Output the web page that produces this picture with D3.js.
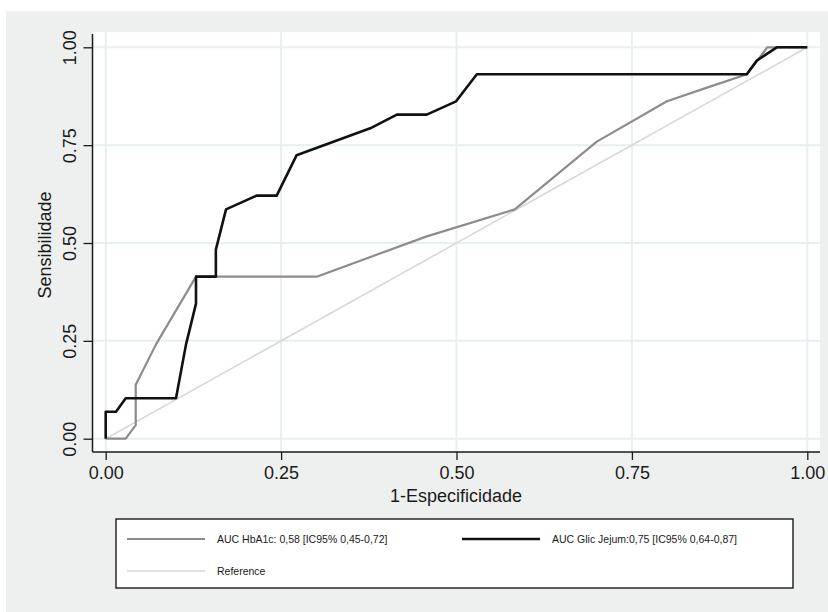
<!DOCTYPE html>
<html>
<head>
<meta charset="utf-8">
<script src="https://cdn.jsdelivr.net/npm/d3@7"></script>
<style>
  html, body { margin: 0; padding: 0; background: #ffffff; }
  svg { display: block; }
  text { font-family: "Liberation Sans", Arial, Helvetica, sans-serif; fill: #1a1a1a; }
</style>
</head>
<body>
<svg id="chart" width="828" height="612"></svg>
<script>
// ROC curves: 1-Especificidade (x) vs Sensibilidade (y)
const tickValues = [0, 0.25, 0.5, 0.75, 1];

const hba1cFpr  = [0, 0.0285, 0.0428, 0.0428, 0.0717, 0.1287, 0.3008, 0.4576, 0.583, 0.700, 0.800, 0.857, 0.914, 0.943, 1];
const hba1cSens = [0, 0,      0.0345, 0.138,  0.241,  0.414,  0.414,  0.517,  0.586, 0.759, 0.862, 0.897, 0.931, 1,     1];

const glicFpr  = [0, 0,     0.0147, 0.0285, 0.1002, 0.1145, 0.1287, 0.1287, 0.157, 0.157, 0.1715, 0.215, 0.2437, 0.272, 0.377, 0.415, 0.4576, 0.4994, 0.529, 0.9137, 0.928, 0.9565, 1];
const glicSens = [0, 0.069, 0.069,  0.1034, 0.1034, 0.241,  0.345,  0.414,  0.414, 0.483, 0.586,  0.621, 0.621,  0.724, 0.793, 0.828, 0.828,  0.862,  0.931, 0.931,  0.966, 1,      1];

const refFpr  = [0, 1];
const refSens = [0, 1];

const seriesNames = [
  "AUC HbA1c: 0,58 [IC95% 0,45-0,72]",
  "AUC Glic Jejum:0,75 [IC95% 0,64-0,87]",
  "Reference"
];

const svg = d3.select("#chart");

// outer graph region
svg.append("rect").attr("x", 6).attr("y", 11).attr("width", 822).attr("height", 601).attr("fill", "#eef0ef");

// plot region
const plot = { left: 92.5, right: 820, top: 32, bottom: 452 };
svg.append("rect")
  .attr("x", plot.left).attr("y", plot.top)
  .attr("width", plot.right - plot.left).attr("height", plot.bottom - plot.top)
  .attr("fill", "#ffffff");

const x = d3.scaleLinear().domain([0, 1]).range([105.7, 807.3]);
const y = d3.scaleLinear().domain([0, 1]).range([438.7, 47.3]);

// grid
const grid = svg.append("g");
grid.selectAll("line.gx").data(tickValues).join("line")
  .attr("x1", d => x(d)).attr("x2", d => x(d))
  .attr("y1", plot.top).attr("y2", plot.bottom)
  .attr("stroke", "#e7eff2").attr("stroke-width", 2);
grid.selectAll("line.gy").data(tickValues).join("line")
  .attr("y1", d => y(d)).attr("y2", d => y(d))
  .attr("x1", plot.left).attr("x2", plot.right)
  .attr("stroke", "#e7eff2").attr("stroke-width", 2);

// lines
const line = d3.line().x(d => x(d[0])).y(d => y(d[1]));
const zip = (a, b) => a.map((v, i) => [v, b[i]]);

svg.append("path").datum(zip(refFpr, refSens))
  .attr("d", line).attr("fill", "none")
  .attr("stroke", "#d8d8d8").attr("stroke-width", 1.6);

svg.append("path").datum(zip(hba1cFpr, hba1cSens))
  .attr("d", line).attr("fill", "none")
  .attr("stroke", "#8c8c8c").attr("stroke-width", 2.2).attr("stroke-linejoin", "round");

svg.append("path").datum(zip(glicFpr, glicSens))
  .attr("d", line).attr("fill", "none")
  .attr("stroke", "#111111").attr("stroke-width", 2.6).attr("stroke-linejoin", "round");

// axes
const xAxis = d3.axisBottom(x).tickValues(tickValues).tickFormat(d3.format(".2f")).tickSize(8).tickSizeOuter(0);
const gx = svg.append("g").attr("transform", `translate(0,${plot.bottom})`).call(xAxis);
gx.select(".domain").remove();
gx.selectAll(".tick line").attr("stroke", "#1a1a1a").attr("stroke-width", 1.3);
gx.selectAll(".tick text").attr("y", 27).attr("dy", null)
  .style("font-size", "18px").style("font-family", "'Liberation Sans', Arial, sans-serif").attr("fill", "#1a1a1a");

const yAxis = d3.axisLeft(y).tickValues(tickValues).tickFormat(d3.format(".2f")).tickSize(9).tickSizeOuter(0);
const gy = svg.append("g").attr("transform", `translate(${plot.left},0)`).call(yAxis);
gy.select(".domain").remove();
gy.selectAll(".tick line").attr("stroke", "#1a1a1a").attr("stroke-width", 1.3);
gy.selectAll(".tick text")
  .attr("x", null).attr("dy", null)
  .attr("transform", "translate(-16.5,0) rotate(-90)")
  .attr("text-anchor", "middle")
  .style("font-size", "18px").style("font-family", "'Liberation Sans', Arial, sans-serif").attr("fill", "#1a1a1a");

// axis lines
svg.append("line").attr("x1", plot.left).attr("x2", plot.left).attr("y1", 34).attr("y2", plot.bottom)
  .attr("stroke", "#1a1a1a").attr("stroke-width", 1.5);
svg.append("line").attr("x1", plot.left).attr("x2", plot.right).attr("y1", plot.bottom).attr("y2", plot.bottom)
  .attr("stroke", "#1a1a1a").attr("stroke-width", 1.5);

// axis titles
svg.append("text").attr("x", 456).attr("y", 502).attr("text-anchor", "middle")
  .style("font-size", "18px").text("1-Especificidade");
svg.append("text").attr("transform", "translate(51,245) rotate(-90)").attr("text-anchor", "middle")
  .style("font-size", "18px").text("Sensibilidade");

// legend
const legend = svg.append("g");
legend.append("rect").attr("x", 116).attr("y", 519).attr("width", 677).attr("height", 69)
  .attr("fill", "#ffffff").attr("stroke", "#1a1a1a").attr("stroke-width", 1.4);

const legendItems = [
  { name: seriesNames[0], color: "#8c8c8c", width: 2.2, lx: 127, ty: 539 },
  { name: seriesNames[1], color: "#111111", width: 2.6, lx: 462, ty: 539 },
  { name: seriesNames[2], color: "#d8d8d8", width: 1.6, lx: 127, ty: 571 }
];
legendItems.forEach(it => {
  legend.append("line").attr("x1", it.lx).attr("x2", it.lx + 78).attr("y1", it.ty).attr("y2", it.ty)
    .attr("stroke", it.color).attr("stroke-width", it.width);
  legend.append("text").attr("x", it.lx + 90).attr("y", it.ty + 3.8)
    .style("font-size", "10.5px").text(it.name);
});
</script>
</body>
</html>
